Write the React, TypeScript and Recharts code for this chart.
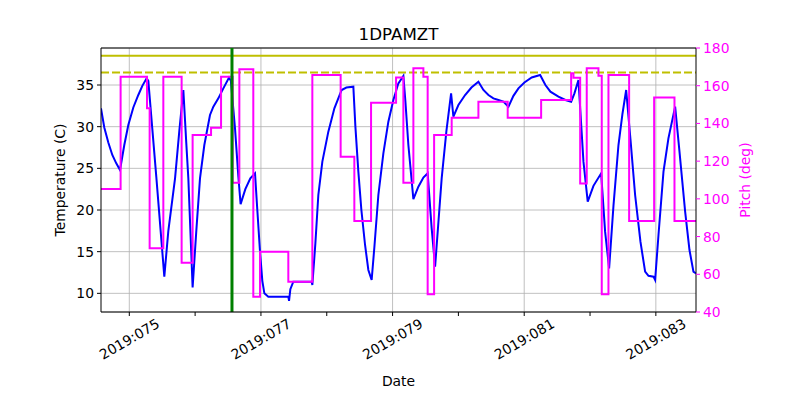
import {
  LineChart,
  Line,
  XAxis,
  YAxis,
  CartesianGrid,
  ReferenceLine,
} from "recharts";

// day of year (2019) and 1DPAMZT temperature (C)
const tempDays = [
  74.57, 74.62, 74.681, 74.742, 74.802, 74.859, 74.924, 74.985, 75.061, 75.137,
  75.198, 75.263, 75.289, 75.41, 75.532, 75.593, 75.695, 75.76, 75.821, 75.866,
  75.897, 75.962, 76.018, 76.074, 76.14, 76.226, 76.277, 76.353, 76.429, 76.515,
  76.543, 76.606, 76.657, 76.691, 76.763, 76.839, 76.91, 76.945, 76.986, 77.021,
  77.052, 77.112, 77.416, 77.427, 77.447, 77.492, 77.771, 77.781, 77.827, 77.872,
  77.933, 78.024, 78.116, 78.226, 78.298, 78.404, 78.435, 78.48, 78.526, 78.582,
  78.632, 78.682, 78.723, 78.784, 78.86, 78.936, 79.012, 79.088, 79.164, 79.195,
  79.24, 79.316, 79.392, 79.468, 79.533, 79.594, 79.646, 79.696, 79.746, 79.818,
  79.889, 79.924, 80.0, 80.102, 80.198, 80.304, 80.38, 80.456, 80.532, 80.608,
  80.684, 80.76, 80.836, 80.912, 81.003, 81.114, 81.242, 81.322, 81.398, 81.52,
  81.626, 81.713, 81.763, 81.824, 81.9, 81.965, 82.052, 82.169, 82.229, 82.29,
  82.356, 82.432, 82.492, 82.549, 82.614, 82.685, 82.766, 82.837, 82.888, 82.964,
  82.989, 83.04, 83.116, 83.191, 83.293, 83.359, 83.445, 83.511, 83.571, 83.61,
];
const tempValues = [
  32.2, 29.9, 28.1, 26.6, 25.6, 24.8, 27.8, 30.2, 32.3, 33.8,
  34.9, 35.8, 35.5, 24.0, 12.0, 17.5, 23.8, 29.5, 34.4, 28.0,
  23.8, 10.7, 17.5, 23.8, 27.8, 31.4, 32.4, 33.4, 34.6, 35.9,
  35.5, 29.8, 24.0, 20.7, 22.5, 23.8, 24.4, 20.0, 15.0, 11.5,
  10.0, 9.6, 9.6, 9.1, 10.5, 11.4, 11.4, 11.0, 16.0, 21.8,
  25.8, 29.4, 32.2, 34.4, 34.7, 34.8, 30.0, 24.6, 20.0, 15.8,
  12.8, 11.6, 15.5, 21.8, 26.8, 30.6, 33.2, 35.2, 36.1, 33.0,
  27.8, 21.3, 22.8, 23.9, 24.4, 17.8, 13.2, 18.5, 23.8, 29.5,
  34.0, 31.2, 32.6, 33.8, 34.7, 35.4, 34.4, 33.8, 33.4, 33.2,
  33.0, 32.4, 33.7, 34.6, 35.3, 35.9, 36.2, 35.0, 34.2, 33.6,
  33.2, 33.0, 34.0, 35.6, 25.8, 21.0, 22.9, 24.4, 17.4, 13.0,
  20.5, 27.8, 31.5, 34.4, 28.5, 21.8, 16.2, 12.6, 12.1, 12.0,
  11.6, 17.0, 24.6, 28.6, 32.4, 27.0, 19.8, 15.2, 12.6, 12.4,
];

// pitch (deg), held until the next change
const pitchDays = [
  74.57, 74.868, 75.269, 75.309, 75.517, 75.795, 75.962, 76.242, 76.394, 76.57,
  76.672, 76.884, 76.986, 77.416, 77.781, 78.211, 78.419, 78.673, 79.053, 79.164,
  79.316, 79.468, 79.533, 79.631, 79.898, 80.304, 80.749, 81.257, 81.713, 81.748,
  81.85, 81.95, 82.128, 82.178, 82.28, 82.594, 82.974, 83.283, 83.61,
];
const pitchValues = [
  105.2, 164.8, 148.0, 73.8, 164.8, 66.1, 133.9, 137.7, 164.8, 108.6,
  168.7, 48.1, 72.0, 56.1, 165.7, 122.3, 88.3, 151.0, 164.4, 108.6,
  169.2, 164.8, 49.4, 133.9, 143.0, 151.5, 143.0, 152.4, 166.6, 164.2,
  108.2, 169.2, 165.3, 49.4, 165.7, 88.3, 153.8, 88.3, 88.3,
];

const dayTicks = [75, 76, 77, 78, 79, 80, 81, 82, 83];
const dayGrid = [75, 77, 79, 81, 83];
const tempTicks = [10, 15, 20, 25, 30, 35];
const pitchTicks = [40, 60, 80, 100, 120, 140, 160, 180];

const planningLimit = 38.5;
const cautionLimit = 36.5;
const nowDay = 76.56;

const tempData = tempDays.map((t, i) => ({ t, temp: tempValues[i] }));
const pitchData = pitchDays.map((t, i) => ({ t, pitch: pitchValues[i] }));

const FONT = "DejaVu Sans, sans-serif";
const FS = 13.9;

function DateTick(props: any) {
  const { x, y, payload } = props;
  const v = payload.value as number;
  if (v % 2 === 0) return <g />;
  return (
    <text
      transform={`translate(${x},${y + 20}) rotate(-30)`}
      textAnchor="middle"
      dominantBaseline="central"
      fontSize={FS}
      fill="#000"
    >
      {`2019:${String(v).padStart(3, "0")}`}
    </text>
  );
}

export default function App() {
  return (
    <div style={{ position: "absolute", left: 0, top: 0, width: 800, height: 400, background: "#fff", fontFamily: FONT }}>
      <div
        style={{
          position: "absolute",
          left: 0,
          width: 797,
          top: 24,
          textAlign: "center",
          fontSize: 16.7,
          lineHeight: "20px",
        }}
      >
        1DPAMZT
      </div>
      <LineChart width={800} height={400} margin={{ top: 48, right: 6, left: 19, bottom: 0 }}>
        <CartesianGrid vertical={false} yAxisId="temp" stroke="#b0b0b0" strokeWidth={0.8} strokeDasharray="" />
        {dayGrid.map((d) => (
          <ReferenceLine key={d} x={d} yAxisId="temp" stroke="#b0b0b0" strokeWidth={0.8} />
        ))}
        <XAxis
          dataKey="t"
          type="number"
          domain={[74.57, 83.61]}
          allowDataOverflow
          ticks={dayTicks}
          tick={<DateTick />}
          tickSize={4}
          tickMargin={3}
          height={88}
          stroke="#000"
          interval={0}
          label={{ value: "Date", position: "insideBottom", offset: 14, fontSize: FS, fill: "#000" }}
        />
        <YAxis
          yAxisId="temp"
          orientation="left"
          width={82}
          domain={[7.76, 39.44]}
          allowDataOverflow
          ticks={tempTicks}
          interval={0}
          tickSize={4}
          tickMargin={3}
          stroke="#000"
          tick={{ fontSize: FS, fill: "#000" }}
          label={{ value: "Temperature (C)", angle: -90, position: "center", fontSize: FS, fill: "#000" }}
        />
        <YAxis
          yAxisId="pitch"
          orientation="right"
          width={98}
          domain={[40, 180]}
          allowDataOverflow
          ticks={pitchTicks}
          interval={0}
          tickSize={4}
          tickMargin={3}
          stroke="#000"
          tickLine={{ stroke: "#ff00ff" }}
          tick={{ fontSize: FS, fill: "#ff00ff" }}
          label={{ value: "Pitch (deg)", angle: -90, position: "center", fontSize: FS, fill: "#ff00ff" }}
        />
        <ReferenceLine y={39.44} yAxisId="temp" stroke="#000" strokeWidth={1} />
        <ReferenceLine y={planningLimit} yAxisId="temp" stroke="#bfbf00" strokeWidth={2} />
        <ReferenceLine y={cautionLimit} yAxisId="temp" stroke="#bfbf00" strokeWidth={2.2} strokeDasharray="8 3" />
        <Line
          data={tempData}
          yAxisId="temp"
          dataKey="temp"
          type="linear"
          stroke="#0000ff"
          strokeWidth={2}
          dot={false}
          isAnimationActive={false}
        />
        <Line
          data={pitchData}
          yAxisId="pitch"
          dataKey="pitch"
          type="stepAfter"
          stroke="#ff00ff"
          strokeWidth={2}
          dot={false}
          isAnimationActive={false}
        />
        <ReferenceLine x={nowDay} yAxisId="temp" stroke="#008000" strokeWidth={3} />
      </LineChart>
    </div>
  );
}
